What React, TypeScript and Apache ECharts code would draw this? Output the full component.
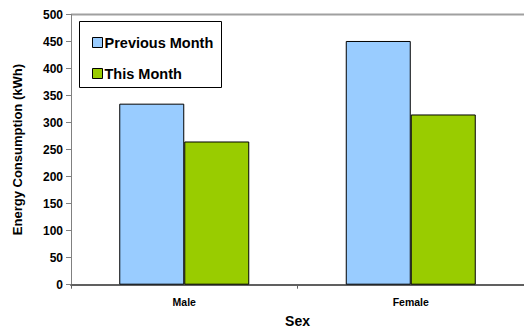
import React, { useEffect, useRef } from "react";
import * as echarts from "echarts";

const categories = ["Male", "Female"];
const previousMonth = [335, 451];
const thisMonth = [265, 315];
const seriesNames = ["Previous Month", "This Month"];

export default function App() {
  const ref = useRef<HTMLDivElement>(null);
  useEffect(() => {
    if (!ref.current) return;
    const chart = echarts.init(ref.current, null, { renderer: "svg" });
    const font = "'Liberation Sans', Arial, sans-serif";
    chart.setOption({
      animation: false,
      backgroundColor: "#fff",
      textStyle: { fontFamily: font },
      grid: { left: 71, right: 0, top: 14.5, bottom: 44.3, containLabel: false, outerBoundsMode: "none" },
      graphic: [
        {
          type: "line",
          shape: { x1: 71, y1: 14.5, x2: 524, y2: 14.5 },
          style: { stroke: "#a0a0a0", lineWidth: 2 },
          z: 0,
        },
        {
          type: "rect",
          shape: { x: 79.5, y: 21.5, width: 142, height: 66 },
          style: { fill: "#fff", stroke: "#000", lineWidth: 1 },
          z: 5,
        },
      ],
      legend: {
        orient: "vertical",
        left: 87,
        top: 30,
        itemWidth: 10,
        itemHeight: 10,
        itemGap: 16,
        z: 10,
        data: seriesNames.map((n) => ({ name: n, icon: "rect", itemStyle: { borderColor: "#000", borderWidth: 1 } })),
        textStyle: { fontFamily: font, fontWeight: "bold", fontSize: 14.5, color: "#000", padding: [0, 0, 0, -3] },
      },
      xAxis: {
        type: "category",
        data: categories,
        name: "Sex",
        nameLocation: "middle",
        nameGap: 29,
        nameTextStyle: { fontFamily: font, fontWeight: "bold", fontSize: 14, color: "#000" },
        axisLine: { lineStyle: { color: "#606060", width: 2 } },
        axisTick: { show: true, length: 4, lineStyle: { color: "#606060" } },
        axisLabel: { fontFamily: font, fontWeight: "bold", fontSize: 10.5, color: "#000", margin: 12 },
      },
      yAxis: {
        type: "value",
        min: 0,
        max: 500,
        interval: 50,
        name: "Energy Consumption (kWh)",
        nameLocation: "middle",
        nameRotate: 90,
        nameGap: 47,
        nameTextStyle: { fontFamily: font, fontWeight: "bold", fontSize: 13, color: "#000" },
        axisLine: { show: true, lineStyle: { color: "#808080", width: 1 } },
        axisTick: { show: true, length: 5, lineStyle: { color: "#808080" } },
        axisLabel: { fontFamily: font, fontWeight: "bold", fontSize: 12, color: "#000", margin: 8 },
        splitLine: { show: false },
      },
      series: [
        {
          name: seriesNames[0],
          type: "bar",
          data: previousMonth,
          barWidth: 65,
          barGap: "0%",
          itemStyle: { color: "#99CCFF", borderColor: "#000", borderWidth: 1 },
        },
        {
          name: seriesNames[1],
          type: "bar",
          data: thisMonth,
          barWidth: 65,
          barGap: "0%",
          itemStyle: { color: "#99CC00", borderColor: "#000", borderWidth: 1 },
        },
      ],
    });
    return () => chart.dispose();
  }, []);
  return <div ref={ref} style={{ width: 524, height: 329, position: "absolute", left: 0, top: 0 }} />;
}
